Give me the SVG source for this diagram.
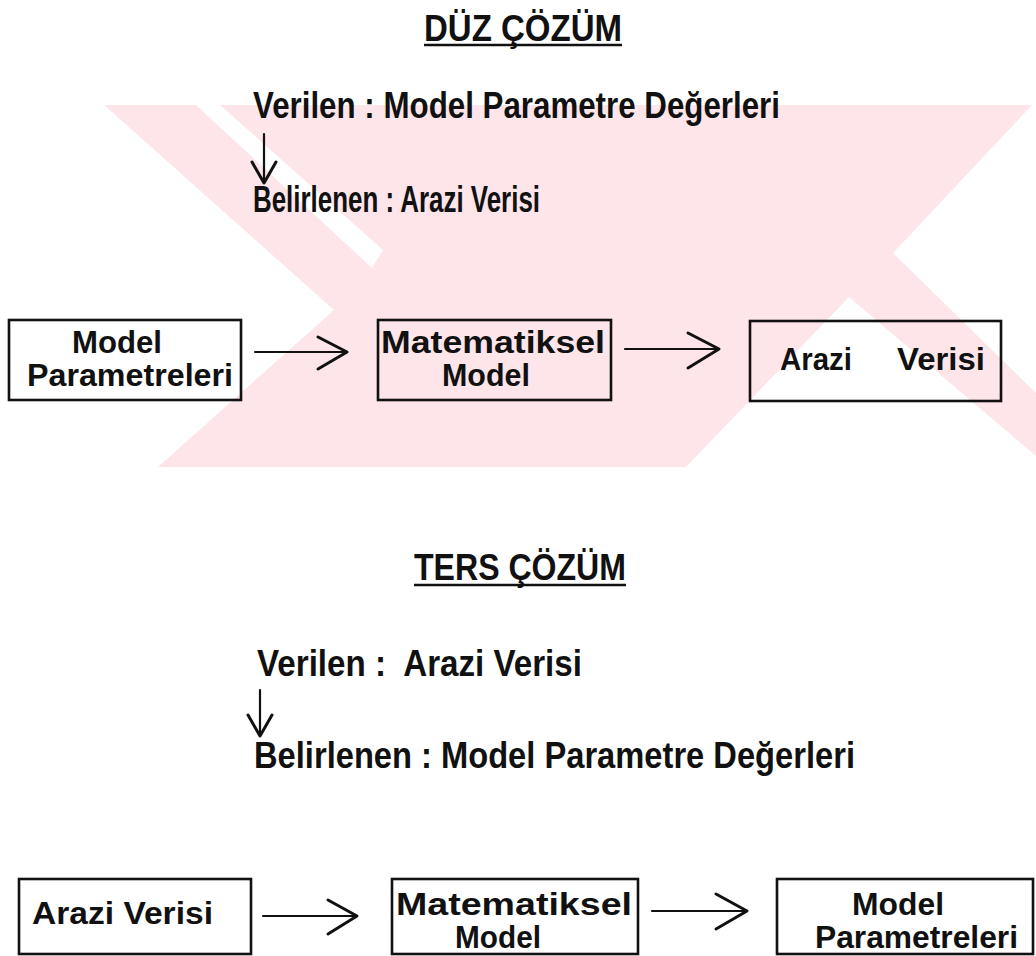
<svg xmlns="http://www.w3.org/2000/svg" width="1036" height="956" viewBox="0 0 1036 956">
<style>
  .t { font-family: "Liberation Sans", Arial, sans-serif; font-weight: bold; fill: #111; }
  .h { font-size: 36px; }
  .m { font-size: 36px; }
  .b { font-size: 31px; }
  .box { fill: none; stroke: #111; stroke-width: 2.6; }
  .ln { fill: none; stroke: #111; stroke-width: 2.2; stroke-linecap: round; stroke-linejoin: round; }
  .hd { fill: none; stroke: #111; stroke-width: 3; stroke-linecap: round; stroke-linejoin: round; }
  .ul { stroke: #111; stroke-width: 2.5; }
  .wm { fill: #fde5ea; }
  .wg { fill: #ffffff; }
</style>
<rect x="0" y="0" width="1036" height="956" fill="#ffffff"/>
<g id="watermark">
  <polygon class="wm" points="104,105 1036,105 1036,467 158,467 334,310"/>
  <polygon class="wg" points="196,105 220,105 383,250 372,268"/>
  <polygon class="wg" points="893,253 1032,105 1036,105 1036,393"/>
  <polygon class="wg" points="849,297 1036,456 1036,467 686,467"/>
</g>
<g id="title-duz">
  <text class="t h" x="424" y="41" textLength="198" lengthAdjust="spacingAndGlyphs">DÜZ ÇÖZÜM</text>
  <line class="ul" x1="424" y1="45" x2="622" y2="45"/>
</g>
<g id="duz-verilen">
  <text class="t m" x="253" y="118" textLength="527" lengthAdjust="spacingAndGlyphs">Verilen : Model Parametre Değerleri</text>
</g>
<g id="duz-belirlenen">
  <text class="t m" x="253" y="212" textLength="287" lengthAdjust="spacingAndGlyphs">Belirlenen : Arazi Verisi</text>
</g>
<g id="duz-model-parametreleri">
  <rect class="box" x="9" y="320" width="232" height="80"/>
  <text class="t b" x="72" y="353" textLength="90" lengthAdjust="spacingAndGlyphs">Model</text>
  <text class="t b" x="27" y="386" textLength="206" lengthAdjust="spacingAndGlyphs">Parametreleri</text>
</g>
<g id="duz-matematiksel-model">
  <rect class="box" x="378" y="320" width="233" height="80"/>
  <text class="t b" x="381" y="353" textLength="224" lengthAdjust="spacingAndGlyphs">Matematiksel</text>
  <text class="t b" x="442" y="386" textLength="88" lengthAdjust="spacingAndGlyphs">Model</text>
</g>
<g id="duz-arazi-verisi">
  <rect class="box" x="750" y="321" width="251" height="80"/>
  <text class="t b" y="370"><tspan x="780" textLength="72" lengthAdjust="spacingAndGlyphs">Arazi</tspan><tspan x="897" textLength="88" lengthAdjust="spacingAndGlyphs">Verisi</tspan></text>
</g>
<g id="title-ters">
  <text class="t h" x="414" y="580" textLength="212" lengthAdjust="spacingAndGlyphs">TERS ÇÖZÜM</text>
  <line class="ul" x1="414" y1="585" x2="626" y2="585"/>
</g>
<g id="ters-verilen">
  <text class="t m" x="257" y="676" textLength="325" lengthAdjust="spacingAndGlyphs" xml:space="preserve">Verilen :  Arazi Verisi</text>
</g>
<g id="ters-belirlenen">
  <text class="t m" x="254" y="768" textLength="601" lengthAdjust="spacingAndGlyphs">Belirlenen : Model Parametre Değerleri</text>
</g>
<g id="ters-arazi-verisi">
  <rect class="box" x="19" y="879" width="232" height="75"/>
  <text class="t b" x="32" y="924" textLength="181" lengthAdjust="spacingAndGlyphs">Arazi Verisi</text>
</g>
<g id="ters-matematiksel-model">
  <rect class="box" x="392" y="879" width="246" height="75"/>
  <text class="t b" x="396" y="915" textLength="236" lengthAdjust="spacingAndGlyphs">Matematiksel</text>
  <text class="t b" x="455" y="948" textLength="86" lengthAdjust="spacingAndGlyphs">Model</text>
</g>
<g id="ters-model-parametreleri">
  <rect class="box" x="777" y="879" width="256" height="75"/>
  <text class="t b" x="852" y="915" textLength="92" lengthAdjust="spacingAndGlyphs">Model</text>
  <text class="t b" x="815" y="948" textLength="203" lengthAdjust="spacingAndGlyphs">Parametreleri</text>
</g>
<g id="connectors">
  <line class="ln" x1="264" y1="134" x2="264" y2="182"/>
  <polyline class="hd" points="252,162 264,183 276,162"/>
  <line class="ln" x1="255" y1="352" x2="346" y2="352"/>
  <polyline class="hd" points="318,337 347,352 318,369"/>
  <line class="ln" x1="625" y1="349" x2="718" y2="349"/>
  <polyline class="hd" points="688,333 719,349 688,368"/>
  <line class="ln" x1="260" y1="690" x2="260" y2="735"/>
  <polyline class="hd" points="248,715 260,736 272,715"/>
  <line class="ln" x1="263" y1="916" x2="355" y2="916"/>
  <polyline class="hd" points="328,900 357,916 328,934"/>
  <line class="ln" x1="652" y1="911" x2="745" y2="911"/>
  <polyline class="hd" points="716,894 747,911 716,929"/>
</g>
</svg>
